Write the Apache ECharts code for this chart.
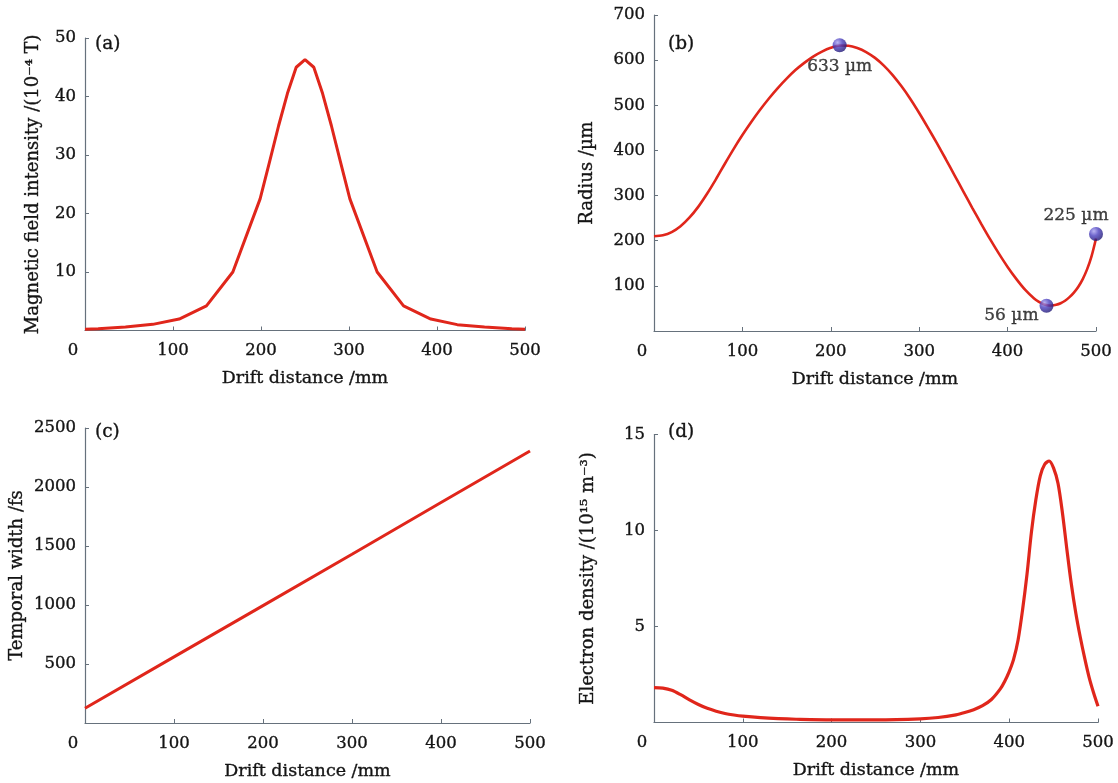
<!DOCTYPE html>
<html>
<head>
<meta charset="utf-8">
<script src="https://cdn.jsdelivr.net/npm/echarts@6/dist/echarts.min.js"></script>
<style>
html,body{margin:0;padding:0;background:#fff;}
#chart{width:1118px;height:783px;}
</style>
</head>
<body>
<div id="chart"></div>
<script>
// ---- Data ----
const xTicks = [0, 100, 200, 300, 400, 500];

// (a) Magnetic field intensity (10^-4 T)
const magX = [0, 15, 46, 77, 107, 138, 168, 199, 210, 220, 230, 240, 250, 260, 270, 280, 290, 301, 332, 362, 393, 423, 454, 485, 500];
const magY = [0.2, 0.3, 0.6, 1.05, 1.95, 4.2, 10, 22.5, 29, 35, 40.5, 45, 46.3, 45, 40.5, 35, 29, 22.5, 10, 4.2, 1.95, 1.0, 0.6, 0.3, 0.2];

// (b) Radius (um)
const radX = [0, 10, 20, 30, 40, 50, 60, 70, 80, 90, 100, 110, 120, 130, 140, 150, 160, 170, 180, 190, 200, 210, 220, 230, 240, 250, 260, 270, 280, 290, 300, 310, 320, 330, 340, 350, 360, 370, 380, 390, 400, 410, 420, 430, 435, 440, 445, 450, 455, 460, 465, 470, 475, 480, 485, 490, 495, 500];
const radY = [210, 212, 219, 232, 251, 275, 304, 336, 370, 403, 434, 463, 490, 515, 538, 559, 578, 594, 608, 619, 627.5, 632.5, 632, 627, 618, 605, 588, 567, 542, 514, 483, 450, 416, 381, 345, 309, 273, 238, 204, 172, 142, 115, 91, 72, 65, 60, 57, 56.5, 58, 61.5, 67, 75, 85, 98, 115, 137, 166, 205];
const radMarkX = [210, 444, 500];
const radMarkY = [633, 56, 215];
const radMarkText = ['633 µm', '56 µm', '225 µm'];

// (c) Temporal width (fs)
const twX = [0, 100, 200, 300, 400, 500];
const twY = [125, 560, 995, 1430, 1868, 2305];

// (d) Electron density (10^15 m^-3)
const edX = [0, 10, 20, 30, 40, 50, 60, 70, 80, 90, 100, 120, 140, 160, 200, 250, 300, 320, 340, 350, 360, 370, 380, 390, 395, 400, 405, 410, 415, 420, 425, 430, 435, 440, 445, 450, 455, 460, 465, 470, 475, 480, 485, 490, 495, 500];
const edY = [1.82, 1.79, 1.68, 1.45, 1.18, 0.94, 0.74, 0.59, 0.47, 0.39, 0.33, 0.25, 0.2, 0.17, 0.14, 0.14, 0.19, 0.26, 0.4, 0.52, 0.67, 0.88, 1.2, 1.75, 2.15, 2.65, 3.3, 4.3, 5.85, 7.7, 9.9, 11.6, 12.85, 13.45, 13.62, 13.25, 12.45, 10.9, 9.0, 7.2, 5.7, 4.45, 3.35, 2.35, 1.55, 0.85];

// ---- Helpers ----
const pairs = (xs, ys) => xs.map((x, i) => [x, ys[i]]);
const FONT = 'DejaVu Serif';
const TXT = '#141414';
const AX = '#66717c';
const RED = '#e0261b';
const BOLDEN = { textBorderColor: '#141414', textBorderWidth: 0.35 };

function xAxis(gi) {
  return {
    type: 'value', gridIndex: gi, min: 0, max: 500, interval: 100,
    name: 'Drift distance /mm', nameLocation: 'middle', nameGap: 39,
    nameTextStyle: Object.assign({ fontFamily: FONT, fontSize: 17.5, color: TXT }, BOLDEN),
    axisLine: { show: true, lineStyle: { color: AX, width: 1.2 } },
    axisTick: { show: true, inside: true, length: 4, lineStyle: { color: AX } },
    splitLine: { show: false },
    axisLabel: Object.assign({
      fontFamily: FONT, fontSize: 16.5, color: TXT, margin: 12,
      formatter: v => v === 0 ? '{z|0}' : String(v),
      rich: { z: Object.assign({ fontFamily: FONT, fontSize: 16.5, color: TXT, padding: [0, 24, 0, 0] }, BOLDEN) }
    }, BOLDEN)
  };
}
function yAxis(gi, name, max, interval, gap) {
  return {
    type: 'value', gridIndex: gi, min: 0, max: max, interval: interval,
    name: name, nameLocation: 'middle', nameGap: gap, nameRotate: 90,
    nameTextStyle: Object.assign({ fontFamily: FONT, fontSize: 18, color: TXT }, BOLDEN),
    axisLine: { show: true, lineStyle: { color: AX, width: 1.2 } },
    axisTick: { show: true, inside: true, length: 4, lineStyle: { color: AX } },
    splitLine: { show: false },
    axisLabel: Object.assign({
      fontFamily: FONT, fontSize: 16.5, color: TXT, margin: 9,
      formatter: v => v === 0 ? '' : String(v)
    }, BOLDEN)
  };
}
function panelTitle(text, left, top) {
  return { text: text, left: left, top: top, padding: 0,
    textStyle: Object.assign({ fontFamily: FONT, fontSize: 18.5, fontWeight: 'normal', color: TXT }, BOLDEN) };
}

const ball = {
  type: 'radial', x: 0.35, y: 0.3, r: 0.75,
  colorStops: [
    { offset: 0, color: '#a9a2f0' },
    { offset: 0.45, color: '#4a3fbf' },
    { offset: 1, color: '#1d1570' }
  ]
};

const markLabels = [
  { position: 'bottom', distance: 6, offset: [0, 0] },
  { position: 'left', distance: 1, offset: [0, 10] },
  { position: 'top', distance: 3, offset: [-20, 0] }
];

const option = {
  animation: false,
  backgroundColor: '#ffffff',
  title: [
    panelTitle('(a)', 95, 35),
    panelTitle('(b)', 668, 35),
    panelTitle('(c)', 95, 423),
    panelTitle('(d)', 668, 423)
  ],
  grid: [
    { left: 85, top: 38, width: 440, height: 292.5 },
    { left: 654, top: 15, width: 442, height: 316 },
    { left: 85, top: 428, width: 445, height: 295 },
    { left: 654, top: 434.5, width: 444, height: 288 }
  ],
  xAxis: [xAxis(0), xAxis(1), xAxis(2), xAxis(3)],
  yAxis: [
    yAxis(0, 'Magnetic field intensity /(10⁻⁴ T)', 50, 10, 43),
    yAxis(1, 'Radius /µm', 700, 100, 58),
    yAxis(2, 'Temporal width /fs', 2500, 500, 59),
    yAxis(3, 'Electron density /(10¹⁵ m⁻³)', 15, 5, 57)
  ],
  series: [
    { type: 'line', xAxisIndex: 0, yAxisIndex: 0, data: pairs(magX, magY),
      showSymbol: false, lineStyle: { color: RED, width: 3 } },
    { type: 'line', xAxisIndex: 1, yAxisIndex: 1, data: pairs(radX, radY), smooth: 0.3,
      showSymbol: false, lineStyle: { color: RED, width: 2.6 } },
    { type: 'scatter', xAxisIndex: 1, yAxisIndex: 1, z: 5,
      data: radMarkX.map((x, i) => ({
        value: [x, radMarkY[i]],
        label: Object.assign({ show: true, formatter: radMarkText[i],
          fontFamily: FONT, fontSize: 17, color: TXT }, BOLDEN, markLabels[i])
      })),
      symbolSize: 14, itemStyle: { color: ball } },
    { type: 'line', xAxisIndex: 2, yAxisIndex: 2, data: pairs(twX, twY),
      showSymbol: false, lineStyle: { color: RED, width: 3 } },
    { type: 'line', xAxisIndex: 3, yAxisIndex: 3, data: pairs(edX, edY), smooth: 0.3,
      showSymbol: false, lineStyle: { color: RED, width: 3.2 } }
  ]
};

const chart = echarts.init(document.getElementById('chart'), null, { renderer: 'canvas' });
chart.setOption(option);
</script>
</body>
</html>
